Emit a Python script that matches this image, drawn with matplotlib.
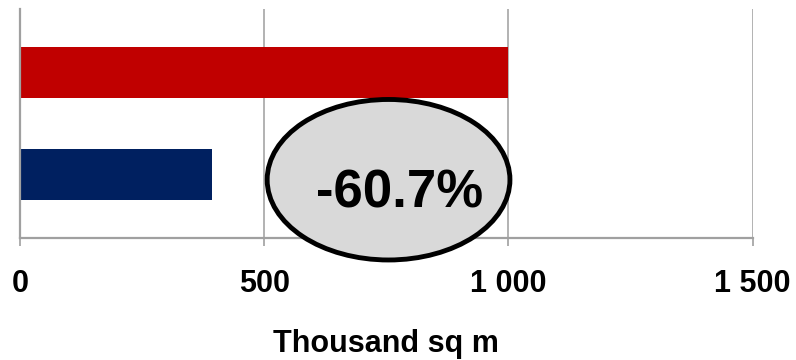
import matplotlib.pyplot as plt
from matplotlib.patches import Ellipse

plt.rcParams['font.family'] = ['Liberation Sans', 'DejaVu Sans']

# floor space, thousand sq m
rows = [0, 1]
values = [393, 1000]
colors = ['#002060', '#C00000']
change_pct = -60.7
xticks = [0, 500, 1000, 1500]
xtick_labels = ['0', '500', '1 000', '1 500']

fig = plt.figure(figsize=(7.96, 3.6), dpi=100)
ax = fig.add_axes([20 / 796, 122 / 360, 732.7 / 796, 229 / 360])

ax.barh(rows, values, height=0.5, color=colors, zorder=2)

ax.set_xlim(0, 1500)
ax.set_ylim(-0.62, 1.62)
ax.set_xticks(xticks)
ax.set_xticklabels(xtick_labels, fontsize=22, fontweight='bold')
ax.set_yticks([])
ax.tick_params(axis='x', direction='out', length=6, width=1.2, color='#a0a0a0', pad=16)
ax.grid(axis='x', color='#a6a6a6', linewidth=1.2, zorder=0)

for side in ['top', 'right']:
    ax.spines[side].set_visible(False)
for side in ['left', 'bottom']:
    ax.spines[side].set_color('#a0a0a0')
    ax.spines[side].set_linewidth(1.6)

ax.set_xlabel('Thousand sq m', fontsize=22, fontweight='bold', labelpad=22)

# callout with the percentage change
oval = Ellipse((754.5, -0.05), width=497, height=1.57, facecolor='#d9d9d9',
               edgecolor='black', linewidth=3.5, zorder=5, clip_on=False)
ax.add_patch(oval)
ax.text(778, -0.32, f'{change_pct:.1f}%', fontsize=38, fontweight='bold',
        ha='center', va='baseline', zorder=6)

fig.savefig('out.png', dpi=100)
